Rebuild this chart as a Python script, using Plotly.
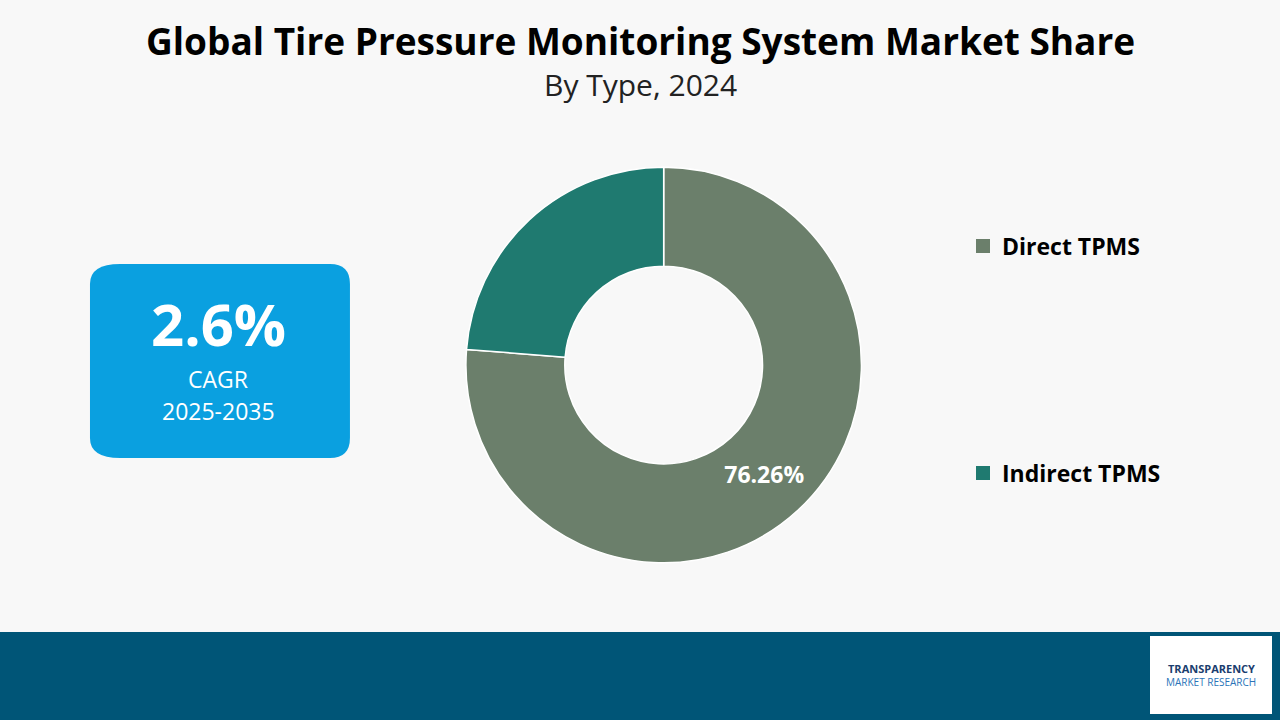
import plotly.graph_objects as go

types = ["Direct TPMS", "Indirect TPMS"]
shares = [76.26, 23.74]
colors = ["#6b7f6b", "#1f7a70"]
slice_text = ["<b>76.26%</b>", ""]

fig = go.Figure()

fig.add_trace(
    go.Pie(
        labels=types,
        values=shares,
        hole=0.5,
        sort=False,
        direction="clockwise",
        rotation=0,
        marker=dict(colors=colors, line=dict(color="white", width=1.5)),
        text=slice_text,
        textinfo="text",
        textposition="inside",
        insidetextorientation="horizontal",
        textfont=dict(family="Open Sans", size=23, color="white"),
        domain=dict(x=[0.364, 0.673], y=[0.218, 0.768]),
        showlegend=False,
        hoverinfo="label+percent",
    )
)

shapes = [
    # bottom band
    dict(type="rect", xref="paper", yref="paper", x0=0, x1=1, y0=0, y1=88 / 720,
         fillcolor="#005577", line_width=0, layer="below"),
    # logo box
    dict(type="rect", xref="paper", yref="paper", x0=1150 / 1280, x1=1272 / 1280,
         y0=6 / 720, y1=84 / 720, fillcolor="white", line_width=0),
    # CAGR box
    dict(type="path", xref="paper", yref="paper",
         path="M 0.0938,0.3639 L 0.2578,0.3639 Q 0.2734,0.3639 0.2734,0.3917 "
              "L 0.2734,0.6056 Q 0.2734,0.6333 0.2578,0.6333 L 0.0938,0.6333 "
              "Q 0.0703,0.6333 0.0703,0.6056 L 0.0703,0.3917 Q 0.0703,0.3639 0.0938,0.3639 Z",
         fillcolor="#0aa0e0", line_width=0),
]

annotations = [
    dict(text="<b>Global Tire Pressure Monitoring System Market Share</b>",
         x=0.5, y=1 - 40 / 720, font=dict(size=37, color="black")),
    dict(text="By Type, 2024", x=0.5, y=1 - 84 / 720, font=dict(size=30, color="#222")),
    dict(text="<b>2.6%</b>", x=218 / 1280, y=1 - 323 / 720, font=dict(size=58, color="white")),
    dict(text="CAGR", x=218 / 1280, y=1 - 379 / 720, font=dict(size=23, color="white")),
    dict(text="2025-2035", x=218 / 1280, y=1 - 411 / 720, font=dict(size=23, color="white")),
    dict(text="<b>TRANSPARENCY</b>", x=1211 / 1280, y=1 - 668 / 720,
         font=dict(size=11, color="#1a3d6e")),
    dict(text="MARKET RESEARCH", x=1211 / 1280, y=1 - 682 / 720,
         font=dict(size=10, color="#2a74b8")),
]

legend_y = [246, 473]
for name, col, ly in zip(types, colors, legend_y):
    shapes.append(dict(type="rect", xref="paper", yref="paper",
                       x0=976 / 1280, x1=990 / 1280,
                       y0=1 - (ly + 7) / 720, y1=1 - (ly - 7) / 720,
                       fillcolor=col, line_width=0))
    annotations.append(dict(text=f"<b>{name}</b>", x=1000 / 1280, y=1 - ly / 720,
                            xanchor="left", font=dict(size=23, color="black")))

for a in annotations:
    a.update(xref="paper", yref="paper", showarrow=False)
    a.setdefault("xanchor", "center")
    a["yanchor"] = "middle"

fig.update_layout(
    width=1280,
    height=720,
    margin=dict(l=0, r=0, t=0, b=0),
    paper_bgcolor="#f8f8f8",
    plot_bgcolor="#f8f8f8",
    font=dict(family="Open Sans"),
    shapes=shapes,
    annotations=annotations,
)

fig.write_html("out.html", config={"displayModeBar": False},
               post_script="document.body.style.margin='0';")
